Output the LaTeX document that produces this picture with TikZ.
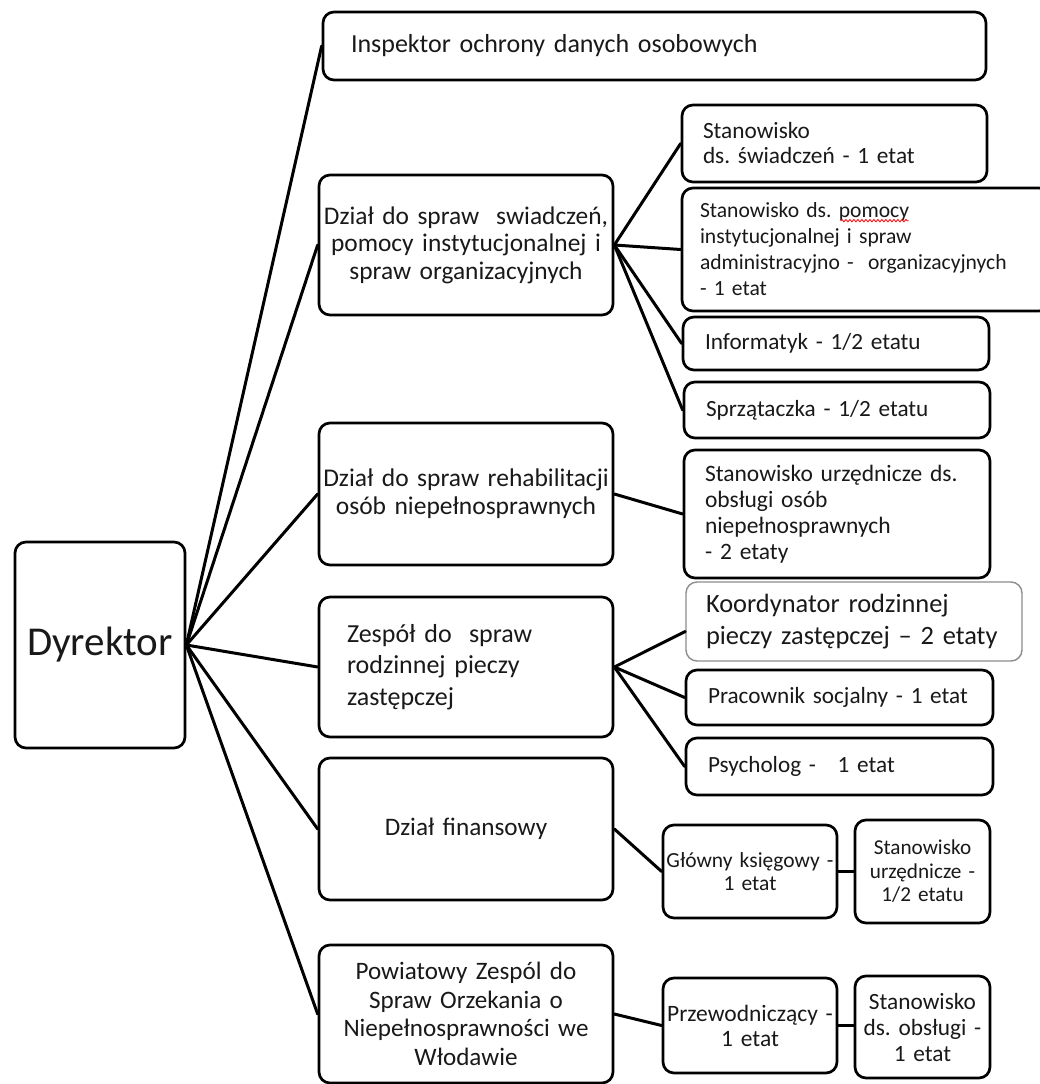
\documentclass[tikz,border=0pt]{standalone}
\usepackage{fontspec}
\setmainfont{Carlito}
\usetikzlibrary{decorations.pathmorphing}
\begin{document}
\frenchspacing
\begin{tikzpicture}[x=1pt,y=-1pt,
  bx/.style={draw, line width=2.7pt, rounded corners=11pt, fill=white, inner ysep=0pt, text=black!90},
  lbox/.style={bx, align=left},
  cbox/.style={bx, align=center},
  ln/.style={line width=3pt, line cap=round},
  squig/.style={draw=red, line width=0.8pt, decorate, decoration={snake, amplitude=1.2pt, segment length=4pt}}]
\fill[white] (0,0) rectangle (1039,1084);
\useasboundingbox (0,0) rectangle (1039,1084);

% Dyrektor
\node[cbox, minimum width=170pt, minimum height=206pt, font=\fontsize{41}{48}\selectfont] (dyr) at (100,645) {Dyrektor};

% Inspektor
\node[lbox, minimum width=663pt, minimum height=68pt, inner xsep=28pt, text width=607pt, font=\fontsize{26}{30}\selectfont] (insp) at (654.5,46) {Inspektor ochrony danych osobowych};

% Dzial swiadczen
\node[cbox, minimum width=294pt, minimum height=140pt, inner xsep=2pt, text width=290pt, font=\fontsize{25.4}{27.5}\selectfont] (sw) at (466,245) {Dział do spraw\ \ swiadczeń,\\ pomocy instytucjonalnej i\\ spraw organizacyjnych};
\node[lbox, minimum width=305pt, minimum height=77pt, inner xsep=21pt, text width=263pt, font=\fontsize{23.3}{25}\selectfont] (s1) at (834.5,143.5) {Stanowisko\\ ds. świadczeń - 1 etat};
\node[lbox, minimum width=368pt, minimum height=123pt, inner xsep=18pt, text width=332pt, font=\fontsize{21.6}{26}\selectfont] (s2) at (866,249.5) {Stanowisko ds. pomocy\\ instytucjonalnej i spraw\\ administracyjno -\ \ organizacyjnych\\ - 1 etat};
\draw[squig] ([shift={(160,34)}]s2.north west) -- ++(68,0);
\node[lbox, minimum width=306pt, minimum height=53pt, inner xsep=22pt, text width=262pt, font=\fontsize{23.2}{26}\selectfont] (s3) at (836,343.5) {Informatyk - 1/2 etatu};
\node[lbox, minimum width=306pt, minimum height=56pt, inner xsep=22pt, text width=262pt, font=\fontsize{23.2}{26}\selectfont] (s4) at (837,410) {Sprzątaczka - 1/2 etatu};

% Dzial rehabilitacji
\node[cbox, minimum width=294pt, minimum height=142pt, inner xsep=2pt, text width=290pt, font=\fontsize{25.5}{28}\selectfont] (reh) at (466,494) {Dział do spraw rehabilitacji\\ osób niepełnosprawnych};
\node[lbox, minimum width=306pt, minimum height=128pt, inner xsep=21pt, text width=264pt, font=\fontsize{23.5}{26}\selectfont] (r1) at (837,514) {Stanowisko urzędnicze ds.\\ obsługi osób\\ niepełnosprawnych\\ - 2 etaty};

% Zespol pieczy
\node[lbox, minimum width=294pt, minimum height=140pt, inner xsep=28pt, text width=238pt, font=\fontsize{26}{31.5}\selectfont] (zes) at (466,667) {Zespół do\ \ spraw\\ rodzinnej pieczy\\ zastępczej};
\node[lbox, draw=black!45, line width=1.4pt, minimum width=336pt, minimum height=79pt, inner xsep=20pt, text width=296pt, font=\fontsize{26.4}{32}\selectfont] (z1) at (854,621.5) {Koordynator rodzinnej\\ pieczy zastępczej – 2 etaty};
\node[lbox, minimum width=307pt, minimum height=55pt, inner xsep=22pt, text width=263pt, font=\fontsize{23.2}{26}\selectfont] (z2) at (839.5,697.5) {Pracownik socjalny - 1 etat};
\node[lbox, minimum width=307pt, minimum height=57pt, inner xsep=22pt, text width=263pt, font=\fontsize{23.2}{26}\selectfont] (z3) at (839.5,766.5) {Psycholog - \hspace{14pt}1 etat};

% Dzial finansowy
\node[cbox, minimum width=294pt, minimum height=142pt, inner xsep=2pt, text width=290pt, font=\fontsize{25.2}{28}\selectfont] (fin) at (466,829) {Dział finansowy};
\node[cbox, minimum width=174pt, minimum height=93pt, inner xsep=2pt, text width=170pt, font=\fontsize{21.5}{23.5}\selectfont] (f1) at (750,871.5) {Główny księgowy -\\ 1 etat};
\node[cbox, minimum width=135pt, minimum height=103pt, inner xsep=2pt, text width=131pt, font=\fontsize{21.2}{23.5}\selectfont] (f2) at (922.5,871.5) {Stanowisko\\ urzędnicze -\\ 1/2 etatu};

% Powiatowy
\node[cbox, minimum width=294pt, minimum height=138pt, inner xsep=2pt, text width=290pt, font=\fontsize{25.1}{28.5}\selectfont] (pow) at (466,1014) {Powiatowy Zespól do\\ Spraw Orzekania o\\ Niepełnosprawności we\\ Włodawie};
\node[cbox, minimum width=174pt, minimum height=95pt, inner xsep=2pt, text width=170pt, font=\fontsize{23.5}{25}\selectfont] (p1) at (750,1025.5) {Przewodniczący -\\ 1 etat};
\node[cbox, minimum width=135pt, minimum height=102pt, inner xsep=2pt, text width=131pt, font=\fontsize{23.3}{26}\selectfont] (p2) at (922.5,1027) {Stanowisko\\ ds. obsługi -\\ 1 etat};

% connectors
\draw[ln] (dyr.east) -- (insp.west);
\draw[ln] (dyr.east) -- (sw.west);
\draw[ln] (dyr.east) -- (reh.west);
\draw[ln] (dyr.east) -- (zes.west);
\draw[ln] (dyr.east) -- (fin.west);
\draw[ln] (dyr.east) -- (pow.west);

\draw[ln] (sw.east) -- (s1.west);
\draw[ln] (sw.east) -- (s2.west);
\draw[ln] (sw.east) -- (s3.west);
\draw[ln] (sw.east) -- (s4.west);

\draw[ln] (reh.east) -- (r1.west);

\draw[ln] (zes.east) -- ([yshift=-10pt]z1.west);
\draw[ln] (zes.east) -- (z2.west);
\draw[ln] (zes.east) -- (z3.west);

\draw[ln] (fin.east) -- (f1.west);
\draw[ln] (f1.east) -- (f2.west);

\draw[ln] (pow.east) -- (p1.west);
\draw[ln] (p1.east) -- (p1.east -| p2.west);
\end{tikzpicture}
\end{document}
